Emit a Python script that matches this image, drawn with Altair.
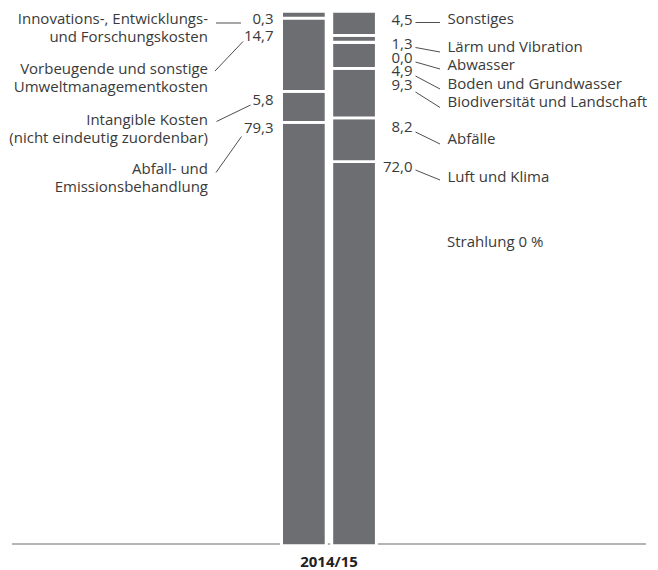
import altair as alt
import pandas as pd

# ---------------- data ----------------
jahr = "2014/15"
kosten_labels = [
    ["Innovations-, Entwicklungs-", "und Forschungskosten"],
    ["Vorbeugende und sonstige", "Umweltmanagementkosten"],
    ["Intangible Kosten", "(nicht eindeutig zuordenbar)"],
    ["Abfall- und", "Emissionsbehandlung"],
]
kosten_werte = [0.3, 14.7, 5.8, 79.3]
medien_labels = ["Sonstiges", "Lärm und Vibration", "Abwasser", "Boden und Grundwasser",
                 "Biodiversität und Landschaft", "Abfälle", "Luft und Klima"]
medien_werte = [4.5, 1.3, 0.0, 4.9, 9.3, 8.2, 72.0]
strahlung_label = "Strahlung"
strahlung_wert = 0

# ---------------- layout (page px minus 8px margin) ----------------
OFF = 8
kosten_label_base = [24, 73.5, 124.5, 174]
line_h = 18.4
kosten_wert_base = [24, 40.5, 104.5, 132.5]
medien_wert_base = [24.5, 49, 62.5, 76, 89.5, 132, 172]
medien_label_base = [24, 51.5, 70, 88.5, 107, 143.5, 182]
strahlung_base = 247
kosten_leaders = [(216, 23, 241, 23), (243, 41.5, 215, 71), (250.5, 105, 216.5, 121.5), (241.5, 136.5, 216, 172.5)]
medien_leaders = [(415.5, 22.5, 440, 22.5), (415.5, 47.5, 440, 52), (415.5, 62, 440, 69), (415.5, 76, 440, 89),
                  (415.5, 92, 440, 107.5), (415.5, 132, 440, 144), (415.5, 170, 440, 180)]
MIN_VIS = 1.3  # minimum visible height (in %) of a non-zero segment

FONT = "Open Sans"
FS = 15
TXT = "#3a3a3a"
BAR = "#6d6e71"


def fmt(v):
    return f"{v:.1f}".replace(".", ",")


def segments(bar, labels, values):
    total = sum(values)
    rows = []
    cum = 0.0
    for lab, v in zip(labels, values):
        y0 = cum / total * 100
        y1 = (cum + v) / total * 100
        y1d = y0 + max(v, MIN_VIS) / total * 100 if v > 0 else y1
        rows.append(dict(bar=bar, kat=lab if isinstance(lab, str) else " ".join(lab), wert=v,
                         y0=y0, y1=max(y1, y1d)))
        cum += v
    return rows[::-1]  # draw bottom segments first


seg = pd.DataFrame(segments("Kosten", kosten_labels, kosten_werte) +
                   segments("Medien", medien_labels, medien_werte))
bg = pd.DataFrame({"bar": ["Kosten", "Medien"], "y0": [0, 0], "y1": [100, 100]})

xs = alt.Scale(domain=["Kosten", "Medien"], range=[273.6, 368.3], paddingInner=0.1135, paddingOuter=0)
ys = alt.Scale(domain=[0, 100], range=[3.3, 537.7], zero=False, nice=False)

base_line = alt.Chart(pd.DataFrame({"a": [0]})).mark_rule(color="#9d9d9d", strokeWidth=1.3).encode(
    x=alt.value(4), x2=alt.value(638), y=alt.value(536))

bg_bars = alt.Chart(bg).mark_bar(color="white", width=alt.RelativeBandSize(1.07)).encode(
    x=alt.X("bar:N", scale=xs, axis=None),
    y=alt.Y("y0:Q", scale=ys, axis=None), y2="y1:Q")

bars = alt.Chart(seg).mark_bar(color=BAR, stroke="white", strokeWidth=2.8).encode(
    x=alt.X("bar:N", scale=xs, axis=None),
    y=alt.Y("y0:Q", scale=ys, axis=None), y2="y1:Q",
    order=alt.Order("y0:Q", sort="descending"))

# leader lines
lead = pd.DataFrame([dict(x=a - OFF, y=b - OFF, x2=c - OFF, y2=d - OFF) for a, b, c, d in kosten_leaders + medien_leaders])
leaders = alt.Chart(lead).mark_rule(color="#3a3a3a", strokeWidth=0.9).encode(
    x=alt.X("x:Q", scale=None, axis=None), y=alt.Y("y:Q", scale=None, axis=None), x2="x2:Q", y2="y2:Q")

# texts
right_rows = []
for lines, b in zip(kosten_labels, kosten_label_base):
    for i, t in enumerate(lines):
        right_rows.append(dict(t=t, x=208 - OFF, y=b + i * line_h - OFF))
for v, b in zip(kosten_werte, kosten_wert_base):
    right_rows.append(dict(t=fmt(v), x=273.5 - OFF, y=b - OFF))
for v, b in zip(medien_werte, medien_wert_base):
    right_rows.append(dict(t=fmt(v), x=412.5 - OFF, y=b - OFF))
left_rows = [dict(t=t, x=447.5 - OFF, y=b - OFF) for t, b in zip(medien_labels, medien_label_base)]
left_rows.append(dict(t=f"{strahlung_label} {strahlung_wert} %", x=447 - OFF, y=strahlung_base - OFF))

txt_r = alt.Chart(pd.DataFrame(right_rows)).mark_text(align="right", baseline="alphabetic", font=FONT,
                                                       fontSize=FS, color=TXT).encode(
    x=alt.X("x:Q", scale=None, axis=None), y=alt.Y("y:Q", scale=None, axis=None), text="t:N")
txt_l = alt.Chart(pd.DataFrame(left_rows)).mark_text(align="left", baseline="alphabetic", font=FONT,
                                                      fontSize=FS, color=TXT).encode(
    x=alt.X("x:Q", scale=None, axis=None), y=alt.Y("y:Q", scale=None, axis=None), text="t:N")
title = alt.Chart(pd.DataFrame({"t": [jahr]})).mark_text(align="center", baseline="alphabetic", font=FONT,
                                                         fontSize=15, fontWeight="bold", color="#222222").encode(
    x=alt.value(321), y=alt.value(567 - OFF), text="t:N")

chart = alt.layer(base_line, bg_bars, bars, leaders, txt_r, txt_l, title).resolve_scale(
    x="independent", y="independent").properties(
    width=642, height=562, autosize=alt.AutoSizeParams(type="none"), padding=0, background="white"
).configure_view(stroke=None)

chart.save("out.html", embed_options={"renderer": "svg", "actions": False})
